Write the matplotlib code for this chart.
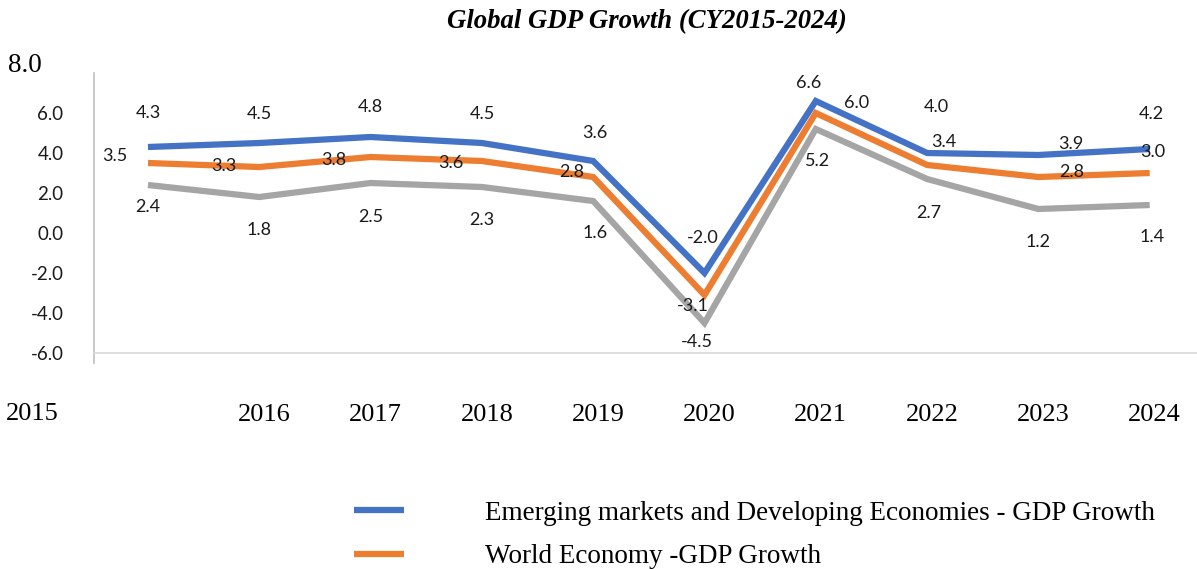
import numpy as np
import matplotlib
matplotlib.use('Agg')
import matplotlib.pyplot as plt
from matplotlib import transforms

# Data
years = ['2015', '2016', '2017', '2018', '2019', '2020', '2021', '2022', '2023', '2024']
emde = [4.3, 4.5, 4.8, 4.5, 3.6, -2.0, 6.6, 4.0, 3.9, 4.2]
world = [3.5, 3.3, 3.8, 3.6, 2.8, -3.1, 6.0, 3.4, 2.8, 3.0]
advanced = [2.4, 1.8, 2.5, 2.3, 1.6, -4.5, 5.2, 2.7, 1.2, 1.4]

# data label offsets in pixels (dx, dy), as placed in the original chart
off_emde = [(0, 34), (0, 29), (0, 30), (0, 29), (2, 28), (-2, 35), (-7, 18), (9, 46), (32, 11), (2, 35)]
off_world = [(-33, 7), (-35, 1), (-37, -3), (-31, -2), (-21, 5), (-12, -11), (41, 10), (17, 23), (33, 5), (3, 21)]
off_adv = [(0, -22), (0, -33), (0, -34), (0, -33), (2, -32), (-8, -19), (2, -32), (2, -34), (0, -33), (2, -32)]

SERIF = 'Liberation Serif'
SANS = 'Lato'

fig = plt.figure(figsize=(11.97, 5.69), dpi=100)
ax = fig.add_axes([94/1197, 1 - 353/569, 1 - 94/1197, (353 - 73)/569])

x = np.arange(len(years))
l1, = ax.plot(x, emde, color='#4472C4', lw=4.5, solid_joinstyle='miter', solid_capstyle='butt',
              label='Emerging markets and Developing Economies - GDP Growth', zorder=3)
l2, = ax.plot(x, world, color='#ED7D31', lw=4.5, solid_joinstyle='miter', solid_capstyle='butt',
              label='World Economy -GDP Growth', zorder=3)
l3, = ax.plot(x, advanced, color='#A5A5A5', lw=4.5, solid_joinstyle='miter', solid_capstyle='butt',
              zorder=3)

for vals, offs in [(emde, off_emde), (world, off_world), (advanced, off_adv)]:
    for xi, v, (dx, dy) in zip(x, vals, offs):
        ax.annotate(f'{v:.1f}', xy=(xi, v), xytext=(dx, dy), textcoords='offset pixels',
                    ha='center', va='center', fontsize=13, family=SANS, color='#1a1a1a', zorder=4)

ax.set_xlim(-0.485, 9.425)
ax.set_ylim(-6, 8)

# axes look
for s in ['top', 'right']:
    ax.spines[s].set_visible(False)
ax.spines['bottom'].set_color('#d9d9d9')
ax.spines['bottom'].set_linewidth(1.2)
ax.spines['left'].set_color('#bfbfbf')
ax.spines['left'].set_linewidth(1.2)
ax.spines['left'].set_bounds(-6.5, 8)

ax.set_yticks([-6, -4, -2, 0, 2, 4, 6])
ax.set_yticklabels([f'{v:.1f}' for v in [-6, -4, -2, 0, 2, 4, 6]], family=SANS, fontsize=13.5)
ax.tick_params(axis='y', length=0, pad=22, colors='#1a1a1a')

ax.set_xticks(x[1:])
ax.set_xticklabels(years[1:], family=SANS, fontsize=19)
ax.tick_params(axis='x', length=0, pad=37)
shift = transforms.ScaledTranslation(5/100, 0, fig.dpi_scale_trans)
for lbl in ax.get_xticklabels():
    lbl.set_family(SERIF)
    lbl.set_transform(lbl.get_transform() + shift)

# first category label sits far left
ax.annotate(years[0], xy=(x[0], -6), xytext=(-116, -61), textcoords='offset pixels',
            ha='center', va='center', fontsize=19, family=SERIF, annotation_clip=False)
# top of value axis
ax.annotate('8.0', xy=(-0.485, 8), xytext=(-69, 7), textcoords='offset pixels',
            ha='center', va='center', fontsize=19.5, family=SERIF, annotation_clip=False)

fig.text(647/1197, 1 - 22/569, 'Global GDP Growth (CY2015-2024)', ha='center', va='center',
         family=SERIF, fontsize=19.3, fontweight='bold', fontstyle='italic')

leg = fig.legend(handles=[l1, l2], loc='upper left', bbox_to_anchor=(343/1197, 1 - 490/569),
                 frameon=False, prop={'family': SERIF, 'size': 19.5},
                 handlelength=1.85, handletextpad=3.0, labelspacing=0.68, borderaxespad=0)

fig.savefig('out.png', dpi=100)
